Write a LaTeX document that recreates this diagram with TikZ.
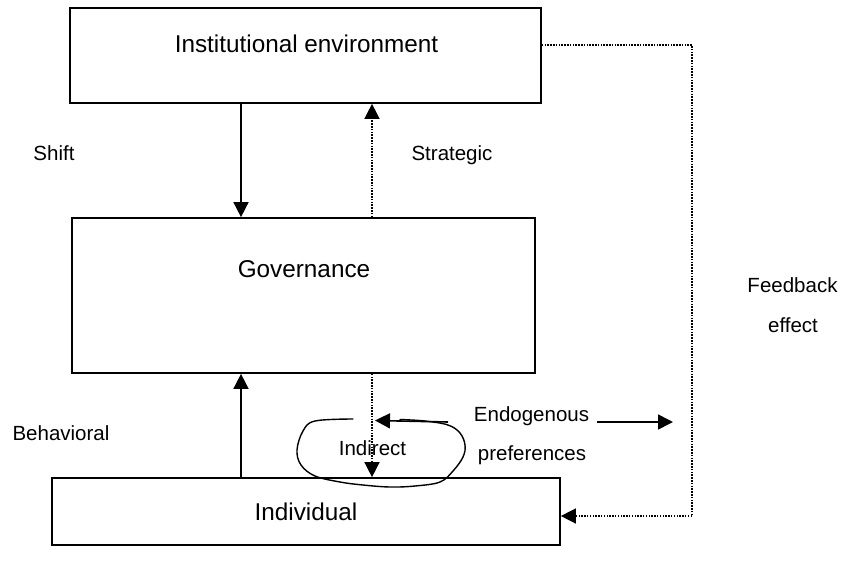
\documentclass[tikz,border=0pt]{standalone}
\usepackage{fontspec}
\setmainfont{Liberation Sans}
\usetikzlibrary{arrows.meta}
\begin{document}
\begin{tikzpicture}[x=1pt,y=-1pt,
  boxnode/.style={draw,line width=1.7pt,inner sep=0pt,rectangle},
  titletext/.style={font=\fontsize{24.3}{28}\selectfont,anchor=base,inner sep=0pt},
  labeltext/.style={font=\fontsize{20.5}{24}\selectfont,anchor=base,inner sep=0pt},
  arr/.style={line width=1.6pt,-{Triangle[length=15pt,width=15pt]}},
  dotarr/.style={line width=1.5pt,dash pattern=on 1.5pt off 1.3pt,-{Triangle[length=15pt,width=15pt]}},
  dotline/.style={line width=1.5pt,dash pattern=on 1.5pt off 1.3pt},
  handline/.style={line width=1.4pt,line cap=round,line join=round}]
\useasboundingbox (0,0) rectangle (846,573);
% boxes
\node[boxnode,minimum width=471pt,minimum height=95pt] (inst) at (305.5,55.5) {};
\node[boxnode,minimum width=463pt,minimum height=155pt] (gov) at (303.5,295.5) {};
\node[boxnode,minimum width=508pt,minimum height=67pt] (ind) at (306,511.5) {};
% box texts
\node[titletext] (instt) at (306.5,52) {Institutional environment};
\node[titletext] (govt) at (304,277) {Governance};
\node[titletext] (indt) at (306,520) {Individual};
% labels
\node[labeltext] (shift) at (54,160) {Shift};
\node[labeltext] (strat) at (452,160) {Strategic};
\node[labeltext] (behav) at (61,440) {Behavioral};
\node[labeltext] (feed) at (792.5,292) {Feedback};
\node[labeltext] (effect) at (793,332) {effect};
\node[labeltext] (endo) at (531.5,421.5) {Endogenous};
\node[labeltext] (pref) at (532,460) {preferences};
\node[labeltext] (indir) at (372.5,455) {Indirect};
% helper coordinates
\coordinate (sx) at (241,0);
\coordinate (stx) at (372,0);
\coordinate (fb1) at (692,45);
\coordinate (fb2) at (692,516);
\coordinate (ea) at (448,422);
\coordinate (eb) at (375,420.5);
\coordinate (ec) at (597,422);
\coordinate (ed) at (673,422);
% connectors
\draw[arr] (sx |- inst.south) -- (sx |- gov.north);
\draw[dotarr] (stx |- gov.north) -- (stx |- inst.south);
\draw[arr] (sx |- ind.north) -- (sx |- gov.south);
\draw[dotarr] (stx |- gov.south) -- (stx |- ind.north);
\draw[dotline] (fb1 -| inst.east) -- (fb1) -- (fb2);
\draw[dotarr] (fb2) -- (fb2 -| ind.east);
\draw[arr] (ea) -- (eb);
\draw[arr] (ec) -- (ed);
% hand-drawn loop
\draw[handline] plot[smooth,tension=0.6] coordinates {(353,419) (315,421) (303,431) (297,450) (301,465) (315,476) (340,482) (363,485) (390,487) (415,486) (440,482) (453,471) (463,457) (465,445) (460,433) (448,425) (425,421) (400,419.5)};
\end{tikzpicture}
\end{document}
